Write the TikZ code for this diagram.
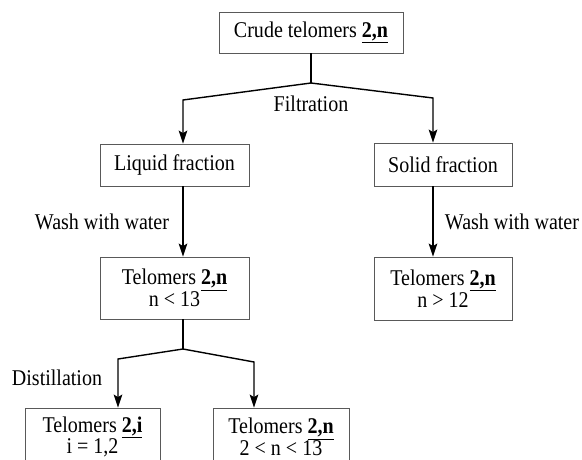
\documentclass[tikz,border=0pt]{standalone}
\usepackage{fontspec}
\setmainfont{Liberation Serif}[FakeStretch=0.89]
\usetikzlibrary{arrows.meta}
\newcommand{\cmpd}[1]{\underline{\textbf{#1}}}

\begin{document}
\begin{tikzpicture}
[x=1pt,y=-1pt,font=\fontsize{22.5}{21.5}\selectfont]
\tikzset{box/.style={draw=black!65,line width=.8pt,align=center,inner sep=0pt}}
\tikzset{arr/.style={line width=1.4pt,-{Stealth[length=13pt,width=8.5pt,inset=2.5pt]}}}
\tikzset{stem/.style={line width=1.4pt}}
\clip (0,0) rectangle (582,460);
\node [box,minimum width=184pt,minimum height=41pt] (crude) at (311,32.5) {Crude telomers \cmpd{2,n}};
\node [box,minimum width=149pt,minimum height=42pt] (liquid) at (174.5,165) {Liquid fraction};
\node [box,minimum width=138pt,minimum height=43pt] (solid) at (443,164.5) {Solid fraction};
\node [box,minimum width=149pt,minimum height=62pt] (mid) at (174.5,288) {Telomers \cmpd{2,n}\\n < 13};
\node [box,minimum width=138pt,minimum height=63pt] (heavy) at (443,288.5) {Telomers \cmpd{2,n}\\n > 12};
\node [box,minimum width=135pt,minimum height=58pt] (light) at (92.5,437) {Telomers \cmpd{2,i}\\i = 1,2};
\node [box,minimum width=136pt,minimum height=58pt] (cut) at (281,437) {Telomers \cmpd{2,n}\\2 < n < 13};

\node (filt) at (311,104) {Filtration};
\node (washl) at (102,222) {Wash with water};
\node (washr) at (512,222) {Wash with water};
\node (dist) at (57,378) {Distillation};

\coordinate (j1) at (311,83);
\coordinate (fl) at (183,100);
\coordinate (fr) at (433,98);
\coordinate (j2) at (183,349);
\coordinate (dl) at (118,359);
\coordinate (dr) at (254,362);

\draw [stem] (crude) -- (j1);
\draw [arr] (j1) -- (fl) -- (fl |- liquid.north);
\draw [arr] (j1) -- (fr) -- (fr |- solid.north);
\draw [arr] (fl |- liquid.south) -- (fl |- mid.north);
\draw [arr] (fr |- solid.south) -- (fr |- heavy.north);
\draw [stem] (j2 |- mid.south) -- (j2);
\draw [arr] (j2) -- (dl) -- (dl |- light.north);
\draw [arr] (j2) -- (dr) -- (dr |- cut.north);
\end{tikzpicture}
\end{document}
